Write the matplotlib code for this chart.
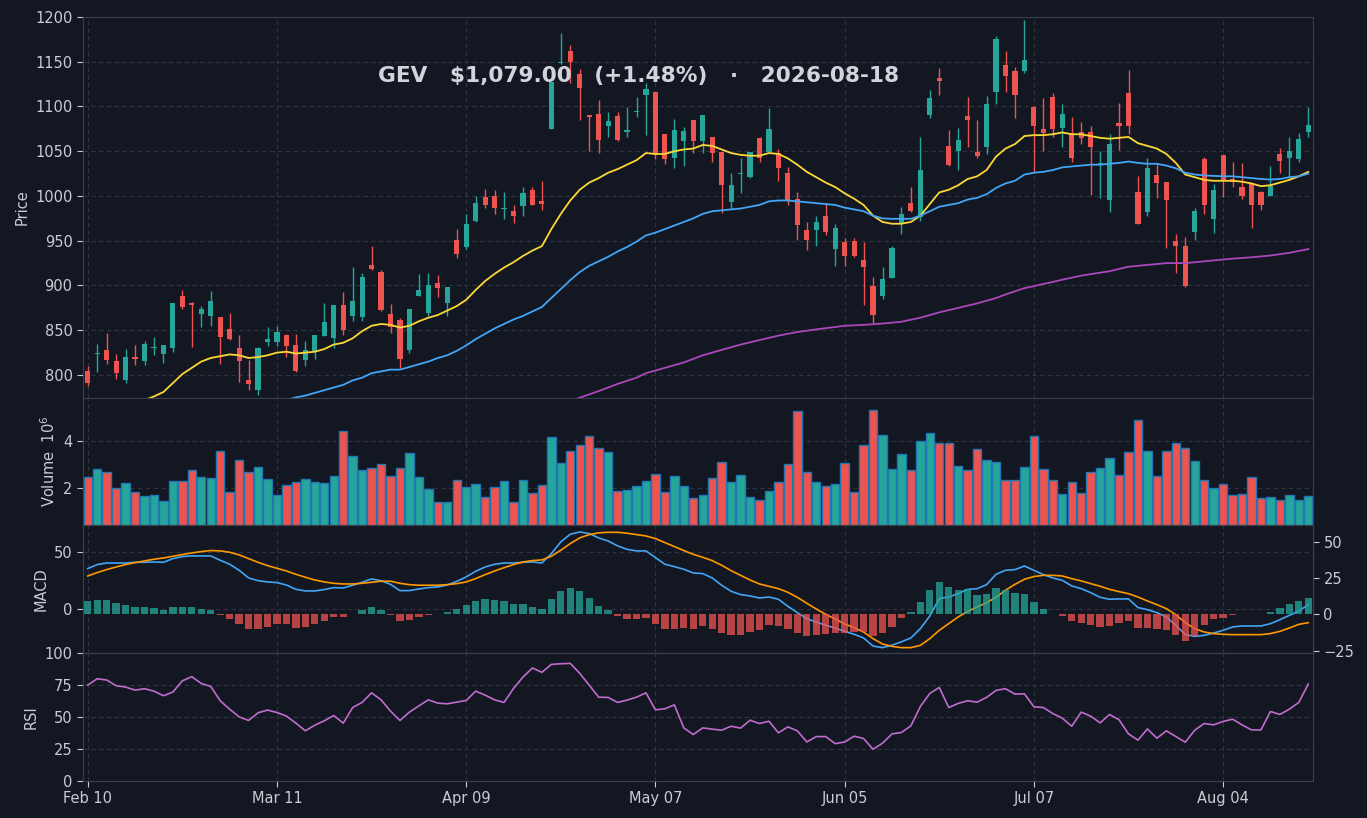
import matplotlib
matplotlib.use("Agg")
import matplotlib.pyplot as plt
import numpy as np

# ---- data (one bar per trading day, Feb 10 .. Aug 18) ----
ticker = "GEV"
last_date = "2026-08-18"
tick_pos = [0, 20, 40, 60, 80, 100, 120]
tick_labels = ["Feb 10", "Mar 11", "Apr 09", "May 07", "Jun 05", "Jul 07", "Aug 04"]

opens = [804.8, 823.1, 828.3, 816.0, 794.0, 820.5, 816.0, 829.8, 823.1, 830.5,
         888.6, 880.4, 867.7, 866.2, 865.1, 851.7, 830.5, 794.0, 782.9, 836.5,
         836.5, 845.0, 833.9, 817.1, 826.8, 843.9, 841.7, 878.5, 865.5, 864.4,
         923.2, 915.3, 868.4, 861.8, 827.5, 888.6, 869.3, 902.7, 880.8, 951.1,
         943.3, 972.3, 999.0, 1000.2, 985.3, 983.4, 988.3, 1006.9, 994.6, 1075.0,
         1148.3, 1161.7, 1136.0, 1090.6, 1091.7, 1078.7, 1089.4, 1072.0, 1094.0, 1112.9,
         1116.6, 1069.4, 1043.0, 1061.6, 1085.0, 1061.0, 1066.0, 1049.7, 993.5, 1024.4,
         1021.0, 1064.5, 1049.7, 1047.8, 1025.9, 996.9, 961.5, 962.2, 977.8, 940.7,
         948.1, 949.2, 928.7, 899.0, 887.8, 907.9, 969.7, 992.7, 976.9, 1090.6,
         1132.2, 1056.0, 1050.8, 1089.4, 1049.7, 1055.3, 1116.7, 1146.4, 1139.7, 1140.1,
         1099.2, 1075.0, 1110.3, 1076.5, 1070.1, 1071.3, 1071.3, 1034.4, 995.0, 1081.3,
         1114.8, 1005.0, 981.6, 1023.6, 1015.8, 950.0, 944.4, 959.3, 1041.5, 974.5,
         1046.0, 1019.2, 1009.5, 1014.3, 1004.6, 1000.2, 1047.1, 1042.6, 1041.5, 1071.6]
highs = [809.7, 834.6, 846.9, 823.4, 829.0, 833.5, 838.0, 842.0, 833.9, 880.4,
         894.5, 881.5, 877.4, 893.4, 865.1, 869.2, 845.0, 817.1, 831.3, 853.6,
         854.3, 846.1, 846.1, 838.3, 845.0, 880.4, 878.5, 892.3, 920.5, 913.8,
         944.0, 917.2, 879.6, 863.6, 874.0, 912.8, 913.8, 911.6, 898.6, 963.4,
         980.1, 1000.5, 1007.6, 1006.5, 1004.3, 990.1, 1010.2, 1010.6, 1016.6, 1127.8,
         1182.5, 1168.4, 1141.6, 1090.6, 1107.3, 1093.6, 1094.0, 1099.2, 1110.3, 1126.0,
         1116.6, 1069.4, 1086.1, 1077.2, 1085.0, 1090.6, 1066.0, 1049.7, 1025.5, 1042.2,
         1049.7, 1065.6, 1098.5, 1052.3, 1032.9, 1004.3, 971.2, 977.8, 992.0, 968.9,
         952.6, 952.9, 948.5, 909.0, 920.5, 944.4, 987.5, 1009.8, 1066.0, 1118.5,
         1143.0, 1073.9, 1076.5, 1110.3, 1085.0, 1111.8, 1178.8, 1162.1, 1144.2, 1196.7,
         1101.0, 1109.2, 1114.8, 1102.5, 1088.7, 1082.4, 1078.7, 1050.0, 1069.0, 1103.6,
         1140.8, 1022.9, 1042.2, 1037.4, 1015.8, 957.4, 953.7, 986.4, 1044.1, 1013.6,
         1046.0, 1038.2, 1036.6, 1014.3, 1005.4, 1033.7, 1053.4, 1066.4, 1070.9, 1099.9]
lows = [787.3, 803.0, 811.9, 795.5, 791.0, 811.0, 811.0, 822.3, 813.4, 825.7,
        873.7, 831.3, 853.2, 854.3, 812.3, 839.4, 792.2, 783.3, 778.0, 832.0,
        832.0, 820.1, 803.0, 810.4, 817.9, 843.9, 830.1, 845.0, 860.0, 860.0,
        916.9, 871.1, 846.5, 807.8, 824.6, 887.8, 866.3, 887.1, 865.5, 930.6,
        940.7, 970.4, 987.1, 979.7, 974.1, 969.7, 977.1, 990.5, 983.8, 1075.0,
        1147.0, 1126.3, 1085.2, 1050.4, 1047.8, 1066.4, 1062.0, 1066.4, 1088.0, 1068.3,
        1041.6, 1036.0, 1031.4, 1033.3, 1047.8, 1048.5, 1038.5, 980.8, 985.3, 1003.8,
        1019.7, 1038.2, 1049.7, 1017.3, 990.1, 951.1, 939.5, 943.6, 956.7, 922.0,
        921.3, 931.7, 878.0, 857.7, 884.8, 907.9, 957.8, 981.6, 972.0, 1086.9,
        1113.3, 1033.7, 1028.5, 1055.3, 1042.2, 1046.7, 1102.9, 1116.7, 1086.9, 1137.8,
        1027.0, 1050.8, 1065.7, 1054.5, 1038.5, 1057.9, 1000.6, 997.6, 981.6, 1051.6,
        1069.4, 968.5, 978.2, 997.5, 941.4, 913.9, 897.9, 951.1, 979.7, 958.5,
        999.4, 1009.8, 997.2, 964.3, 983.8, 1000.2, 1026.2, 1019.9, 1038.5, 1065.7]
closes = [790.7, 824.6, 816.4, 801.9, 820.5, 817.5, 835.0, 831.3, 833.1, 880.4,
          875.5, 878.6, 874.0, 882.6, 842.0, 840.6, 815.3, 789.6, 830.5, 840.2,
          848.4, 832.0, 804.8, 828.3, 845.0, 859.5, 878.5, 850.6, 883.0, 909.8,
          918.7, 872.9, 853.6, 817.9, 874.0, 895.3, 900.5, 897.5, 898.6, 935.4,
          968.9, 992.7, 990.1, 986.8, 986.8, 978.2, 1003.5, 990.5, 991.6, 1127.8,
          1149.4, 1149.8, 1120.8, 1088.7, 1062.7, 1083.9, 1062.7, 1073.9, 1095.5, 1119.6,
          1046.3, 1040.8, 1073.9, 1072.7, 1062.0, 1090.6, 1048.5, 1011.8, 1012.5, 1025.2,
          1049.7, 1042.2, 1074.6, 1031.8, 995.8, 967.9, 950.3, 970.4, 959.3, 964.5,
          933.2, 932.5, 920.2, 866.6, 907.5, 941.4, 980.1, 982.7, 1028.9, 1109.6,
          1128.1, 1034.8, 1063.1, 1084.9, 1044.8, 1102.9, 1175.4, 1134.5, 1113.3, 1152.0,
          1078.7, 1070.9, 1075.0, 1091.7, 1041.9, 1065.3, 1055.3, 1036.6, 1057.9, 1078.3,
          1078.7, 968.5, 1031.1, 1015.0, 995.8, 943.6, 899.7, 982.7, 990.1, 1006.9,
          1018.1, 1015.4, 1000.2, 990.1, 990.1, 1011.3, 1039.6, 1050.8, 1063.3, 1079.0]

# volume in millions of shares
volume_m = [2.47, 2.81, 2.68, 2.03, 2.21, 1.83, 1.66, 1.70, 1.45, 2.30,
            2.30, 2.79, 2.47, 2.43, 3.57, 1.83, 3.19, 2.68, 2.89, 2.38,
            1.70, 2.13, 2.26, 2.38, 2.26, 2.21, 2.51, 4.43, 3.36, 2.77,
            2.85, 3.02, 2.51, 2.85, 3.49, 2.47, 1.96, 1.40, 1.40, 2.34,
            2.04, 2.17, 1.62, 2.04, 2.30, 1.40, 2.34, 1.79, 2.13, 4.17,
            3.06, 3.60, 3.83, 4.21, 3.70, 3.53, 1.87, 1.91, 2.09, 2.30,
            2.60, 1.83, 2.51, 2.09, 1.57, 1.70, 2.43, 3.11, 2.26, 2.55,
            1.62, 1.49, 1.87, 2.26, 3.02, 5.28, 2.68, 2.26, 2.09, 2.17,
            3.06, 1.83, 3.83, 5.32, 4.26, 2.81, 3.45, 2.77, 4.00, 4.34,
            3.91, 3.91, 2.94, 2.77, 3.66, 3.19, 3.11, 2.34, 2.34, 2.89,
            4.21, 2.81, 2.34, 1.74, 2.26, 1.79, 2.68, 2.85, 3.28, 2.55,
            3.53, 4.89, 3.57, 2.51, 3.57, 3.91, 3.70, 3.15, 2.34, 2.00,
            2.17, 1.70, 1.74, 2.47, 1.57, 1.62, 1.49, 1.70, 1.49, 1.66]

# moving averages as drawn (fast starts at bar 6, mid at bar 21)
ma_fast_start = 6
ma_fast = [772, 776, 781, 791, 801, 808, 815, 819, 821, 823, 822, 819, 820, 822,
           825, 826, 824, 825, 826, 829, 834, 836, 841, 849, 855, 857, 856, 853,
           855, 860, 864, 867, 872, 877, 884, 895, 905, 913, 920, 926, 933, 939,
           944, 963, 980, 995, 1007, 1015, 1020, 1026, 1030, 1035, 1040, 1048, 1047,
           1047, 1050, 1052, 1053, 1057, 1056, 1052, 1048, 1046, 1045, 1045, 1048,
           1047, 1042, 1035, 1027, 1021, 1015, 1010, 1003, 997, 990, 978, 971, 969,
           969, 971, 978, 991, 1004, 1007, 1012, 1019, 1022, 1029, 1044, 1053, 1058,
           1067, 1068, 1068, 1069, 1071, 1069, 1069, 1067, 1065, 1064, 1065, 1066,
           1059, 1056, 1053, 1047, 1037, 1024, 1021, 1018, 1017, 1017, 1017, 1016,
           1014, 1011, 1012, 1015, 1018, 1022, 1027]
ma_mid_start = 21
ma_mid = [772, 775, 777, 780, 783, 786, 789, 794, 797, 802, 804, 806, 806, 809,
          812, 815, 819, 822, 827, 833, 840, 846, 852, 857, 862, 866, 871, 876,
          886, 896, 906, 915, 922, 927, 932, 938, 943, 949, 956, 959, 963, 967,
          971, 975, 980, 983, 984, 985, 986, 988, 990, 994, 995, 995, 994, 993,
          992, 991, 990, 987, 985, 983, 978, 975, 974.5, 974.5, 974.5, 978, 983,
          988, 990, 992, 996, 998, 1002, 1009, 1014, 1017, 1024, 1026, 1027, 1029,
          1032, 1033, 1034, 1035, 1035, 1036, 1037, 1038.5, 1037, 1036, 1036, 1034,
          1031, 1026, 1024, 1023, 1022.5, 1022, 1022, 1021, 1020, 1019, 1018.4,
          1019, 1021, 1022, 1025]
ma_slow_x = [51, 54, 56, 58, 59, 61, 63, 65, 67, 69, 71, 73, 75, 77, 80, 82, 84,
             86, 88, 90, 92, 94, 96, 97, 99, 102, 103, 105, 108, 110, 112, 114,
             116, 118, 121, 123, 125, 127, 129]
ma_slow = [771, 782, 790, 797, 802, 808, 814, 822, 828, 834, 839, 844, 848, 851,
           855, 856, 857.5, 859.5, 864, 870, 875, 880, 886, 890, 897, 904, 906.5,
           911, 916, 921, 923, 925, 925, 927, 930, 931.5, 933.5, 936.5, 940.7]

macd = [35.7, 39.2, 40.6, 40.6, 40.6, 41.2, 41.2, 41.5, 41.2, 44.4,
        46.2, 46.8, 46.8, 46.8, 43.0, 39.5, 34.2, 27.5, 25.1, 24.0,
        23.4, 21.3, 17.5, 16.1, 16.1, 17.3, 19.0, 18.7, 21.1, 23.7,
        26.6, 25.1, 21.9, 16.4, 16.4, 17.8, 19.0, 19.6, 21.3, 24.5,
        28.4, 33.3, 37.1, 39.5, 40.6, 40.6, 41.2, 41.5, 40.6, 48.8,
        59.1, 65.8, 67.8, 66.4, 62.6, 59.9, 55.6, 52.6, 51.2, 51.2,
        45.3, 39.5, 37.4, 35.1, 31.9, 31.3, 27.5, 21.1, 15.8, 12.9,
        11.7, 9.9, 10.8, 8.8, 2.6, -2.9, -8.2, -11.1, -14.0, -16.4,
        -19.3, -21.9, -25.1, -32.2, -33.6, -31.5, -28.5, -25.1, -17.0, -5.8,
        9.4, 10.8, 13.7, 17.5, 18.1, 21.6, 30.7, 34.2, 34.8, 38.0,
        34.2, 30.4, 27.5, 25.4, 20.5, 18.1, 14.6, 10.5, 8.8, 9.1,
        9.1, 1.5, -0.3, -2.9, -6.7, -14.0, -22.2, -23.7, -22.8, -20.8,
        -18.4, -15.5, -14.6, -14.6, -14.6, -12.6, -9.1, -5.3, -1.5, 4.1]
signal = [29.2, 32.2, 34.8, 37.1, 39.2, 40.9, 42.4, 43.9, 45.0, 46.5,
          48.0, 49.4, 50.6, 51.5, 51.2, 50.0, 47.7, 44.4, 41.2, 38.3,
          36.0, 33.6, 30.7, 28.1, 25.7, 24.0, 22.8, 22.2, 22.2, 22.8,
          23.7, 24.6, 24.6, 22.8, 21.6, 21.1, 21.1, 21.1, 21.6, 22.5,
          24.0, 26.9, 30.4, 33.6, 36.5, 39.2, 41.5, 42.7, 43.3, 46.5,
          51.8, 57.6, 62.6, 65.5, 67.0, 67.5, 67.5, 66.7, 65.5, 64.3,
          62.0, 58.5, 55.0, 51.5, 48.2, 45.6, 42.7, 38.6, 33.9, 29.8,
          25.7, 22.2, 20.2, 18.1, 14.9, 10.5, 5.3, 0.3, -4.4, -8.5,
          -12.9, -16.1, -19.9, -25.7, -30.4, -32.5, -33.6, -33.6, -31.6, -25.7,
          -18.4, -12.6, -6.7, -1.8, 2.0, 5.8, 10.5, 16.7, 21.9, 26.3,
          28.7, 29.8, 29.8, 29.2, 26.9, 24.9, 22.5, 20.2, 17.5, 15.5,
          13.7, 10.8, 7.3, 4.1, 0.6, -4.7, -11.7, -17.0, -19.9, -21.3,
          -21.9, -22.2, -22.2, -22.2, -22.2, -21.3, -19.3, -16.4, -13.2, -11.7]
hist = [9.1, 9.8, 9.8, 7.7, 6.4, 5.0, 5.0, 4.3, 3.0, 5.0,
        5.0, 5.0, 3.6, 3.0, -0.5, -3.2, -6.4, -9.8, -9.8, -8.4,
        -7.0, -7.0, -9.1, -8.4, -6.4, -4.3, -1.6, -1.6, 0.0, 3.0,
        5.0, 3.0, -0.5, -4.5, -3.9, -1.6, -0.5, 0.0, 1.6, 3.4,
        6.4, 9.1, 10.5, 9.8, 9.1, 7.0, 7.0, 5.0, 3.6, 10.5,
        15.9, 18.0, 15.9, 11.1, 5.7, 3.0, -1.1, -3.2, -3.2, -2.5,
        -6.6, -10.0, -10.0, -9.3, -10.0, -8.0, -10.0, -12.7, -14.1, -14.1,
        -12.0, -10.7, -7.3, -8.0, -10.0, -12.7, -14.8, -14.1, -13.4, -12.7,
        -12.7, -12.0, -12.0, -14.8, -12.7, -8.6, -2.5, 1.6, 8.4, 16.6,
        22.0, 18.6, 16.6, 17.3, 13.2, 13.9, 18.0, 16.6, 14.5, 13.9,
        8.4, 3.6, 0.0, -1.1, -4.5, -5.9, -7.3, -8.6, -8.0, -5.9,
        -4.5, -9.3, -9.3, -10.0, -10.7, -14.1, -18.2, -14.8, -7.3, -3.2,
        -2.5, -0.5, 0.0, 0.0, 0.0, 1.6, 4.3, 7.0, 9.1, 11.1]

rsi = [74.9, 79.9, 78.9, 74.4, 73.4, 71.0, 72.1, 70.2, 66.6, 69.5,
       78.3, 81.5, 76.2, 73.9, 62.7, 56.1, 50.1, 47.3, 53.3, 55.4,
       53.5, 50.7, 45.2, 39.2, 43.6, 47.0, 51.2, 45.2, 57.4, 61.4,
       68.9, 63.4, 54.6, 47.3, 53.8, 58.7, 63.4, 60.8, 60.3, 61.6,
       62.9, 70.2, 67.1, 63.4, 61.4, 72.3, 81.2, 88.3, 84.9, 91.1,
       91.6, 91.9, 84.1, 74.9, 65.5, 65.3, 61.4, 63.2, 65.5, 68.9,
       55.6, 56.4, 59.5, 41.5, 36.3, 41.5, 40.5, 39.7, 42.8, 41.3,
       47.5, 44.9, 46.7, 37.6, 42.3, 39.2, 30.5, 34.7, 34.7, 29.2,
       30.5, 35.0, 33.2, 24.8, 29.5, 36.8, 37.9, 43.1, 58.2, 68.4,
       73.1, 57.4, 60.6, 62.7, 61.6, 65.3, 70.8, 72.1, 67.9, 68.1,
       58.0, 57.4, 52.7, 49.1, 42.8, 53.8, 50.7, 45.4, 52.0, 47.8,
       36.8, 31.9, 40.7, 33.4, 39.2, 34.7, 30.3, 39.7, 44.9, 43.9,
       46.5, 48.3, 43.9, 39.9, 39.9, 54.3, 52.0, 56.1, 61.4, 75.7]

# ---- style ----
bg = "#131722"
grid_c = "#30343f"
spine_c = "#3a3f4b"
txt = "#c9ccd4"
up_c = "#26a69a"
down_c = "#ef5350"

plt.rcParams["font.family"] = "DejaVu Sans"
plt.rcParams["font.size"] = 10.5

o = np.array(opens)
c = np.array(closes)
h = np.array(highs)
l = np.array(lows)
x = np.arange(len(o))
rising = c >= o
colors = np.where(rising, up_c, down_c)

fig = plt.figure(figsize=(13.67, 8.18), dpi=100, facecolor=bg)
gs = fig.add_gridspec(4, 1, height_ratios=[381, 127, 128, 128], hspace=0,
                      left=83 / 1367, right=1313 / 1367, top=1 - 17 / 818, bottom=1 - 781 / 818)
ax_p = fig.add_subplot(gs[0])
ax_v = fig.add_subplot(gs[1], sharex=ax_p)
ax_m = fig.add_subplot(gs[2], sharex=ax_p)
ax_r = fig.add_subplot(gs[3], sharex=ax_p)


def style(ax):
    ax.set_facecolor(bg)
    for s in ax.spines.values():
        s.set_color(spine_c)
    ax.tick_params(colors=txt, labelcolor=txt, length=4, width=0.8)
    ax.grid(True, color=grid_c, linestyle=(0, (4, 3)), linewidth=0.8)
    ax.set_axisbelow(True)


for ax in (ax_p, ax_v, ax_m, ax_r):
    style(ax)
    if ax is not ax_r:
        ax.tick_params(axis="x", length=0, labelbottom=False)

# price panel: wicks then bodies
ax_p.vlines(x, l, h, color=colors, linewidth=1.0, zorder=2)
body_low = np.minimum(o, c)
body_h = np.maximum(np.abs(c - o), 0.8)
ax_p.bar(x, body_h, bottom=body_low, width=0.55, color=colors, linewidth=0, zorder=3)
ax_p.plot(np.arange(ma_fast_start, ma_fast_start + len(ma_fast)), ma_fast,
          color="#fdd835", linewidth=1.3, zorder=4)
ax_p.plot(np.arange(ma_mid_start, ma_mid_start + len(ma_mid)), ma_mid,
          color="#42a5f5", linewidth=1.3, zorder=4)
ax_p.plot(ma_slow_x, ma_slow, color="#ab47bc", linewidth=1.3, zorder=4)
ax_p.set_ylim(774.3, 1200)
ax_p.set_yticks(np.arange(800, 1201, 50))
ax_p.set_ylabel("Price", color=txt)

# volume panel
ax_v.bar(x, volume_m, width=0.88, color=colors, edgecolor="#1f77b4", linewidth=1.0, zorder=3)
ax_v.set_ylim(0.44, 5.84)
ax_v.set_yticks([2, 4])
ax_v.set_ylabel("Volume  $10^{6}$", color=txt)

# MACD panel, histogram on a twin scale
ax_m.plot(x, macd, color="#42a5f5", linewidth=1.2, zorder=3)
ax_m.plot(x, signal, color="#ff9800", linewidth=1.2, zorder=3)
ax_m.set_ylim(-38.3, 73.9)
ax_m.set_yticks([0, 50])
ax_m.set_ylabel("MACD", color=txt)
ax_h = ax_m.twinx()
hv = np.array(hist)
ax_h.bar(x, hv, width=0.78, color=np.where(hv >= 0, up_c, down_c), alpha=0.75, linewidth=0)
ax_h.set_ylim(-26.7, 61.7)
ax_h.set_yticks([-25, 0, 25, 50])
ax_h.tick_params(colors=txt, labelcolor=txt, length=4, width=0.8)
for s in ax_h.spines.values():
    s.set_color(spine_c)

# RSI panel
ax_r.plot(x, rsi, color="#c06ccf", linewidth=1.2)
ax_r.set_ylim(0, 100)
ax_r.set_yticks([0, 25, 50, 75, 100])
ax_r.set_ylabel("RSI", color=txt)

ax_r.set_xlim(-0.5, len(x) - 0.5)
ax_r.set_xticks(tick_pos)
ax_r.set_xticklabels(tick_labels)

pct = (closes[-1] / closes[-2] - 1) * 100
title = f"{ticker}   \\${closes[-1]:,.2f}   ({pct:+.2f}%)   ·   {last_date}"
fig.text(638.5 / 1367, 1 - 76 / 818, title, ha="center", va="center",
         fontsize=15.6, fontweight="bold", color="#d1d4dc")

fig.savefig("out.png", dpi=100, facecolor=bg)
